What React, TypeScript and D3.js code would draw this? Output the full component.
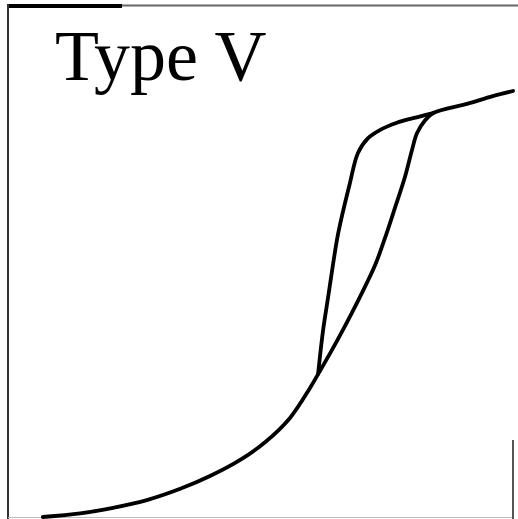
import React from 'react';
import { scaleLinear, line, curveCatmullRom } from 'd3';

const svgWidth = 518;
const svgHeight = 519;

// relative pressure P/P0 and amount adsorbed (arbitrary units, 0-100)
const adsorptionP = [0.069, 0.143, 0.208, 0.275, 0.341, 0.4, 0.459, 0.509, 0.558, 0.598, 0.614, 0.638, 0.663, 0.697, 0.727, 0.75, 0.768, 0.786, 0.8, 0.81, 0.826, 0.842, 0.909, 0.96, 1.0];
const adsorptionQ = [0, 0.7, 1.8, 3.3, 5.5, 8.0, 11.1, 14.6, 19.3, 25.2, 27.9, 32.0, 36.5, 43.0, 49.2, 55.5, 60.9, 66.4, 71.7, 75.0, 77.5, 78.9, 80.7, 82.2, 83.2];

const desorptionP = [0.614, 0.624, 0.634, 0.644, 0.654, 0.677, 0.693, 0.713, 0.737, 0.77, 0.802, 0.842];
const desorptionQ = [27.9, 36.5, 43.0, 49.6, 55.5, 65.2, 71.1, 74.0, 75.6, 77.0, 77.9, 78.9];

const title = 'Type V';

const x = scaleLinear().domain([0, 1]).range([8, 513]);
const y = scaleLinear().domain([0, 100]).range([517, 5]);

const isotherm = line<[number, number]>()
  .x((d) => x(d[0]))
  .y((d) => y(d[1]))
  .curve(curveCatmullRom.alpha(0.5));

export default function App() {
  const ads = adsorptionP.map((p, i) => [p, adsorptionQ[i]] as [number, number]);
  const des = desorptionP.map((p, i) => [p, desorptionQ[i]] as [number, number]);

  return (
    <svg
      width={svgWidth}
      height={svgHeight}
      style={{ position: 'fixed', left: 0, top: 0, background: '#fff' }}
    >
      {/* frame, as scanned */}
      <line x1={122} x2={518} y1={5.5} y2={5.5} stroke="#666" strokeWidth={2} />
      <line x1={7} x2={122} y1={6} y2={6} stroke="#000" strokeWidth={4} />
      <line x1={8} x2={8} y1={4} y2={519} stroke="#333" strokeWidth={2} />
      <line x1={8} x2={513} y1={517.5} y2={517.5} stroke="#bbb" strokeWidth={1} />
      <line x1={513} x2={513} y1={440} y2={519} stroke="#555" strokeWidth={2} />

      <text
        x={55}
        y={80}
        fontFamily="'Liberation Serif', 'Times New Roman', serif"
        fontSize={72}
        fill="#000"
      >
        {title}
      </text>

      <path d={isotherm(ads) ?? ''} fill="none" stroke="#000" strokeWidth={3.8} strokeLinejoin="round" strokeLinecap="round" />
      <path d={isotherm(des) ?? ''} fill="none" stroke="#000" strokeWidth={3.8} strokeLinejoin="round" strokeLinecap="round" />
    </svg>
  );
}
